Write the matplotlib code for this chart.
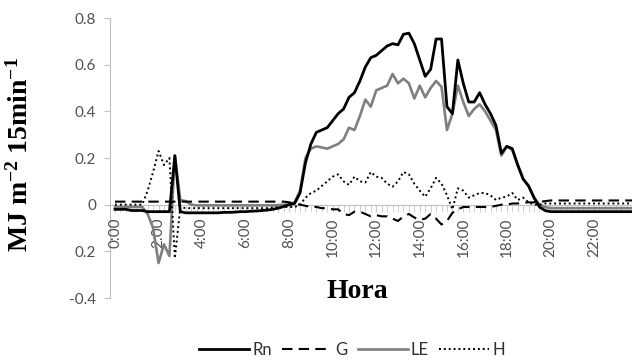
import numpy as np
import matplotlib
matplotlib.use('Agg')
import matplotlib.pyplot as plt

# 15-min data, 0:00 .. 23:45
hours = np.arange(96) * 0.25

rn = [-0.02, -0.02, -0.02, -0.025, -0.025, -0.025, -0.03, -0.03,
      -0.03, -0.03, -0.03, 0.21, -0.03, -0.035, -0.035, -0.035,
      -0.035, -0.035, -0.035, -0.035, -0.033, -0.033, -0.032, -0.03,
      -0.03, -0.028, -0.027, -0.025, -0.023, -0.02, -0.015, -0.008,
      0.0, 0.005, 0.05, 0.18, 0.26, 0.31, 0.32, 0.33,
      0.36, 0.39, 0.41, 0.46, 0.48, 0.53, 0.59, 0.63,
      0.64, 0.66, 0.68, 0.69, 0.685, 0.73, 0.735, 0.69,
      0.62, 0.55, 0.58, 0.71, 0.71, 0.42, 0.39, 0.62,
      0.52, 0.44, 0.44, 0.48, 0.43, 0.39, 0.34, 0.22,
      0.25, 0.24, 0.17, 0.11, 0.08, 0.03, -0.01, -0.025,
      -0.03, -0.03, -0.03, -0.03, -0.03, -0.03, -0.03, -0.03,
      -0.03, -0.03, -0.03, -0.03, -0.03, -0.03, -0.03, -0.03]

g = [0.013] * 32 + [
     0.01, 0.005, 0.0, -0.005, -0.01, -0.01, -0.015, -0.015,
     -0.02, -0.02, -0.04, -0.045, -0.03, -0.03, -0.04, -0.05,
     -0.045, -0.05, -0.05, -0.06, -0.07, -0.05, -0.04, -0.055,
     -0.065, -0.06, -0.04, -0.06, -0.085, -0.07, -0.035, -0.02,
     -0.01, -0.01, -0.01, -0.01, -0.01, -0.01, -0.005, 0.0,
     0.0, 0.005, 0.005, 0.008, 0.01, 0.01, 0.012, 0.015] + [0.018] * 16

le = [-0.01, -0.01, -0.01, -0.01, -0.01, -0.01, -0.04, -0.1,
      -0.25, -0.17, -0.22, 0.21, 0.02, 0.015, 0.0, -0.003,
      -0.003, -0.003, -0.003, -0.003, -0.003, -0.003, -0.003, -0.003,
      -0.003, -0.003, -0.003, -0.003, -0.003, -0.003, -0.002, 0.0,
      0.0, 0.01, 0.06, 0.2, 0.24, 0.25, 0.245, 0.24,
      0.25, 0.26, 0.28, 0.33, 0.32, 0.38, 0.45, 0.42,
      0.49, 0.5, 0.51, 0.56, 0.52, 0.54, 0.52, 0.455,
      0.51, 0.46, 0.5, 0.53, 0.505, 0.32, 0.39, 0.51,
      0.44, 0.38, 0.41, 0.43, 0.4, 0.36, 0.32, 0.21,
      0.25, 0.235, 0.17, 0.11, 0.08, 0.03, 0.0, -0.01] + [-0.015] * 16

h = [0.0, 0.0, 0.0, 0.0, 0.0, 0.0, 0.06, 0.14,
     0.23, 0.17, 0.2, -0.23, -0.01, -0.015, -0.015, -0.015,
     -0.015, -0.015, -0.015, -0.015, -0.015, -0.015, -0.015, -0.015,
     -0.015, -0.015, -0.015, -0.015, -0.015, -0.012, -0.01, -0.01,
     -0.01, -0.01, 0.0, 0.03, 0.05, 0.06, 0.08, 0.1,
     0.12, 0.13, 0.1, 0.085, 0.12, 0.1, 0.095, 0.14,
     0.12, 0.115, 0.09, 0.077, 0.1, 0.14, 0.13, 0.09,
     0.06, 0.034, 0.07, 0.115, 0.09, 0.04, -0.02, 0.07,
     0.06, 0.03, 0.04, 0.05, 0.05, 0.04, 0.02, 0.03,
     0.035, 0.05, 0.02, 0.03, 0.01, 0.0, 0.0, 0.005] + [0.005] * 16

xticks = np.arange(0, 24, 2)
xticklabels = ['%d:00' % t for t in xticks]
yticks = [0.8, 0.6, 0.4, 0.2, 0, -0.2, -0.4]
yticklabels = ['0.8', '0.6', '0.4', '0.2', '0', '0.2', '-0.4']

plt.rcParams['font.family'] = ['Lato', 'DejaVu Sans']
plt.rcParams['mathtext.fontset'] = 'custom'
plt.rcParams['mathtext.rm'] = 'Liberation Serif:bold'
plt.rcParams['mathtext.it'] = 'Liberation Serif:bold'
plt.rcParams['mathtext.bf'] = 'Liberation Serif:bold'

fig = plt.figure(figsize=(6.32, 3.63), dpi=100)
ax = fig.add_axes([110 / 632, 1 - 298 / 363, 522 / 632, 280 / 363])

ax.plot(hours, rn, color='black', lw=2.0, zorder=4, label='Rn')
ax.plot(hours, g, color='black', lw=1.5, dashes=(5, 3), zorder=4, label='G')
ax.plot(hours, le, color='#7f7f7f', lw=1.9, zorder=3, label='LE')
ax.plot(hours, h, color='black', lw=1.4, ls=(0, (1, 1.5)), zorder=3, label='H')

ax.set_xlim(-0.23, 23.5)
ax.set_ylim(-0.4, 0.8)

for s in ['top', 'right']:
    ax.spines[s].set_visible(False)
ax.spines['left'].set_color('#c0c0c0')
ax.spines['bottom'].set_color('#c0c0c0')
ax.spines['bottom'].set_position(('data', 0))
ax.spines['left'].set_zorder(1)
ax.spines['bottom'].set_zorder(1)

ax.set_yticks(yticks)
ax.set_yticklabels(yticklabels)
ax.set_xticks(xticks)
ax.set_xticklabels(xticklabels, rotation=90)
ax.set_xticks(hours, minor=True)
ax.tick_params(axis='y', colors='#c0c0c0', labelcolor='#505050', labelsize=11,
               length=4, pad=6)
ax.tick_params(axis='x', which='both', colors='#c8c8c8', labelcolor='#505050',
               labelsize=11, length=5, direction='out', pad=4)

fig.text(20 / 632, 1 - 155 / 363, r'MJ m$^{-2}$ 15min$^{-1}$', rotation=90,
         ha='center', va='center', fontsize=20, family='Liberation Serif',
         fontweight='bold')
fig.text(357 / 632, 1 - 291 / 363, 'Hora', ha='center', va='center',
         fontsize=20, family='Liberation Serif', fontweight='bold')

fig.legend(loc='center', bbox_to_anchor=(352 / 632, 1 - 350 / 363), ncol=4,
           frameon=False, fontsize=12, handlelength=3.0, columnspacing=0.6,
           handletextpad=0.2, labelcolor='#303030')

fig.savefig('out.png', dpi=100)
